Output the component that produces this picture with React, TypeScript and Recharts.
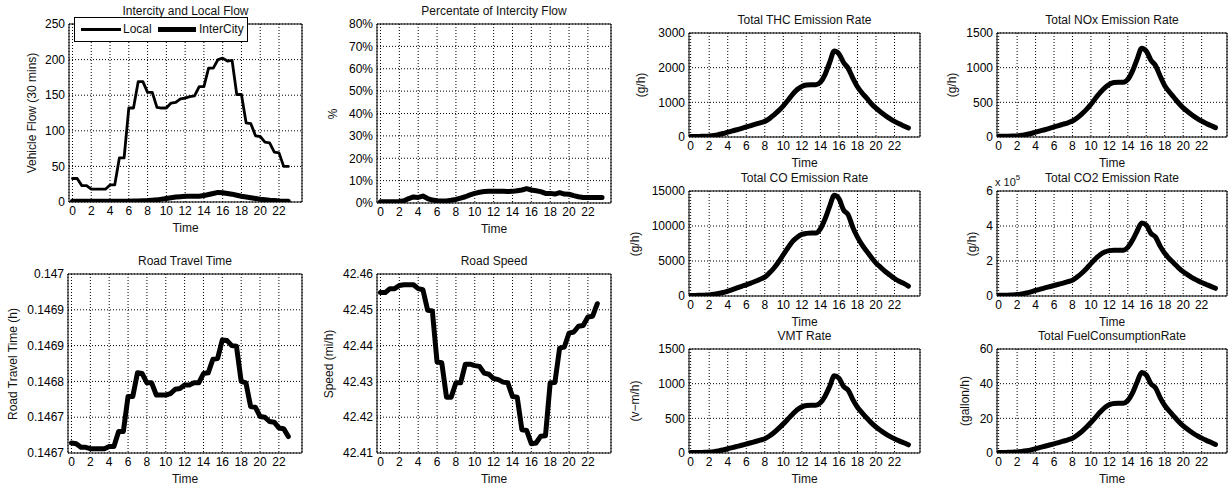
import React from 'react';
import { LineChart, Line, XAxis, YAxis, CartesianGrid, ReferenceArea } from 'recharts';

const FONT = '"Liberation Sans", Arial, Helvetica, sans-serif';

// ---------- time axes ----------
const timeA = [0, 0.5, 1, 1.5, 2, 2.5, 3, 3.5, 4, 4.5, 5, 5.5, 6, 6.5, 7, 7.5, 8, 8.5, 9, 9.5, 10, 10.5, 11, 11.5, 12, 12.5, 13, 13.5, 14, 14.5, 15, 15.5, 16, 16.5, 17, 17.5, 18, 18.5, 19, 19.5, 20, 20.5, 21, 21.5, 22, 22.5, 23];
const timeB = [0, 0.5, 1, 1.5, 2, 2.5, 3, 3.5, 4, 4.5, 5, 5.5, 6, 6.5, 7, 7.5, 8, 8.5, 9, 9.5, 10, 10.5, 11, 11.5, 12, 12.5, 13, 13.5, 14, 14.5, 15, 15.5, 16, 16.5, 17, 17.5, 18, 18.5, 19, 19.5, 20, 20.5, 21, 21.5, 22, 22.5, 23, 23.5];
const xTicks = [0, 2, 4, 6, 8, 10, 12, 14, 16, 18, 20, 22];

// ---------- left block series ----------
const localFlow = [33, 33, 23, 23, 18, 18, 18, 18, 24, 24, 62, 62, 132, 132, 169, 169, 154, 154, 133, 132, 132, 139, 140, 145, 146, 148, 149, 162, 162, 188, 188, 200, 202, 198, 199, 151, 151, 111, 110, 93, 92, 84, 83, 70, 69, 50, 50];
const intercityFlow = [1, 1, 1, 1, 1, 1, 1, 1, 1, 1, 1, 1, 1.2, 1.3, 1.5, 1.7, 2, 2.5, 3, 4, 5, 6, 7, 7.5, 8, 8, 8, 8, 9, 10.5, 12, 13.5, 13, 12, 11, 9.5, 8, 7, 6, 5, 4, 3.2, 2.5, 2, 1.5, 1.2, 1];
const intercityPct = [0.6, 0.6, 0.6, 0.6, 0.7, 1.0, 2.0, 2.7, 2.5, 3.1, 2.0, 1.3, 1.0, 0.9, 0.9, 1.2, 1.6, 2.2, 2.8, 3.6, 4.3, 4.8, 5.1, 5.2, 5.2, 5.2, 5.2, 5.1, 5.2, 5.5, 5.8, 6.4, 5.8, 5.5, 5.1, 4.3, 4.3, 4.0, 4.6, 4.0, 3.9, 3.3, 2.8, 2.5, 2.5, 2.5, 2.5, 2.5];
const travelTime = [0.146714, 0.146713, 0.146708, 0.146708, 0.146706, 0.146706, 0.146706, 0.146706, 0.146709, 0.146709, 0.14673, 0.14673, 0.146779, 0.146779, 0.146812, 0.146811, 0.146798, 0.146798, 0.146781, 0.146781, 0.146781, 0.146783, 0.146789, 0.14679, 0.146795, 0.146795, 0.146798, 0.146798, 0.146811, 0.146812, 0.146831, 0.146832, 0.146858, 0.146857, 0.14685, 0.146849, 0.1468, 0.146798, 0.146765, 0.146764, 0.146751, 0.14675, 0.146744, 0.146743, 0.146735, 0.146734, 0.146723];
const roadSpeed = [42.4548, 42.4548, 42.4559, 42.4559, 42.4568, 42.457, 42.457, 42.457, 42.4559, 42.4556, 42.4499, 42.4497, 42.4354, 42.4352, 42.4256, 42.4256, 42.4296, 42.4296, 42.4348, 42.4348, 42.4344, 42.4342, 42.4323, 42.432, 42.4308, 42.4305, 42.4298, 42.4296, 42.4258, 42.4256, 42.4165, 42.4163, 42.4126, 42.4128, 42.4147, 42.4148, 42.4296, 42.4297, 42.4393, 42.4396, 42.4435, 42.4438, 42.4454, 42.4456, 42.448, 42.4482, 42.4517];

// ---------- emission series ----------
const thcRate = [15, 15, 18, 22, 30, 45, 70, 100, 140, 175, 210, 250, 290, 330, 370, 410, 450, 530, 640, 760, 900, 1060, 1230, 1370, 1460, 1500, 1510, 1510, 1580, 1800, 2150, 2480, 2400, 2150, 1980, 1700, 1450, 1270, 1120, 960, 830, 720, 620, 530, 450, 380, 320, 260];
const noxRate = [10, 10, 12, 14, 16, 25, 35, 50, 70, 88, 105, 125, 145, 165, 185, 205, 230, 275, 330, 395, 470, 560, 640, 710, 760, 785, 790, 790, 830, 950, 1120, 1280, 1240, 1110, 1030, 880, 740, 650, 570, 490, 420, 365, 315, 270, 230, 195, 165, 135];
const coRate = [80, 80, 100, 120, 150, 250, 350, 500, 700, 920, 1150, 1380, 1600, 1850, 2100, 2400, 2700, 3300, 4000, 4900, 5900, 6900, 7800, 8400, 8800, 8950, 9000, 9000, 9600, 11000, 12800, 14400, 13900, 12300, 11600, 9800, 8400, 7300, 6400, 5500, 4700, 4100, 3500, 3000, 2500, 2100, 1800, 1400];
const co2Rate = [4000, 4000, 5000, 6000, 8000, 12000, 17000, 24000, 32000, 39000, 46000, 53000, 60000, 67000, 74000, 82000, 90000, 108000, 130000, 156000, 185000, 213000, 236000, 251000, 259000, 262000, 262000, 262000, 278000, 318000, 370000, 417000, 405000, 358000, 337000, 285000, 244000, 213000, 187000, 161000, 139000, 121000, 104000, 90000, 77000, 66000, 55000, 44000];
const vmtRate = [6, 6, 8, 10, 14, 20, 30, 45, 62, 78, 95, 112, 130, 148, 166, 185, 205, 245, 295, 355, 420, 490, 560, 625, 665, 685, 690, 690, 725, 820, 960, 1115, 1080, 960, 905, 770, 660, 580, 505, 435, 375, 325, 280, 240, 205, 175, 148, 118];
const fuelRate = [0.3, 0.3, 0.4, 0.5, 0.6, 0.9, 1.3, 1.8, 2.5, 3.2, 3.9, 4.6, 5.3, 6.0, 6.8, 7.6, 8.5, 10.2, 12.3, 14.8, 17.6, 20.6, 23.6, 26.2, 27.9, 28.6, 28.7, 28.7, 30.3, 34.6, 40.8, 46.5, 45.0, 40.0, 37.6, 32.0, 27.4, 24.1, 21.1, 18.2, 15.6, 13.6, 11.7, 10.0, 8.6, 7.3, 6.2, 4.9];

// ---------- tick definitions ----------
const flowTicks = [0, 50, 100, 150, 200, 250];
const pctTicks = [0, 10, 20, 30, 40, 50, 60, 70, 80];
const ttTicks = [0.1467, 0.14675, 0.1468, 0.14685, 0.1469, 0.14695];
const ttLabels = ['0.1467', '0.1467', '0.1468', '0.1469', '0.1469', '0.147'];
const speedTicks = [42.41, 42.42, 42.43, 42.44, 42.45, 42.46];
const thcTicks = [0, 1000, 2000, 3000];
const noxTicks = [0, 500, 1000, 1500];
const coTicks = [0, 5000, 10000, 15000];
const co2Ticks = [0, 200000, 400000, 600000];
const vmtTicks = [0, 500, 1000, 1500];
const fuelTicks = [0, 20, 40, 60];

const flowData = timeA.map((t, i) => ({ t, local: localFlow[i], inter: intercityFlow[i] }));
const pctData = timeB.map((t, i) => ({ t, v: intercityPct[i] }));
const ttData = timeA.map((t, i) => ({ t, v: travelTime[i] }));
const speedData = timeA.map((t, i) => ({ t, v: roadSpeed[i] }));
const mk = (arr: number[]) => timeB.map((t, i) => ({ t, v: arr[i] }));

const LEFT_X: [number, number] = [-0.37, 24.45];
const EM_X: [number, number] = [-0.18, 24.75];

type LineSpec = { key: string; width: number; curve?: any };

type PanelProps = {
  box: [number, number, number, number];
  data: any[];
  lines: LineSpec[];
  xDomain: [number, number];
  yDomain: [number, number];
  yTicks: number[];
  yFmt?: (v: number, i: number) => string;
  title: string;
  yLabel: string;
  yLabelX: number;
};

const txt: React.CSSProperties = {
  position: 'absolute',
  fontFamily: FONT,
  fontSize: 12,
  lineHeight: '14px',
  color: '#111',
  whiteSpace: 'nowrap',
};

function Panel({ box, data, lines, xDomain, yDomain, yTicks, yFmt, title, yLabel, yLabelX }: PanelProps) {
  const [l, t, w, h] = box;
  const ML = 60, MT = 10, MR = 8, MB = 22;
  const tickStyle = { fill: '#000', fontSize: 12, fontFamily: FONT };
  return (
    <>
      <div style={{ position: 'absolute', left: l - ML, top: t - MT }}>
        <LineChart width={w + ML + MR} height={h + MT + MB} data={data} margin={{ top: MT, right: MR, left: 0, bottom: 0 }}>
          <CartesianGrid stroke="#000" strokeDasharray="1 2" strokeWidth={1} />
          <XAxis dataKey="t" type="number" domain={xDomain} ticks={xTicks} allowDataOverflow interval={0}
            tickLine={false} axisLine={false} tickSize={0} tickMargin={4} height={MB} tick={tickStyle} />
          <YAxis type="number" domain={yDomain} ticks={yTicks} allowDataOverflow interval={0}
            tickLine={false} axisLine={false} tickSize={0} tickMargin={4} width={ML} tick={tickStyle}
            tickFormatter={yFmt as any} />
          {lines.map((s) => (
            <Line key={s.key} dataKey={s.key} type={s.curve || 'linear'} stroke="#000" strokeWidth={s.width}
              dot={false} activeDot={false} isAnimationActive={false} strokeLinejoin="round" strokeLinecap="round" />
          ))}
          <ReferenceArea x1={xDomain[0]} x2={xDomain[1]} y1={yDomain[0]} y2={yDomain[1]} fill="none"
            stroke="#000" strokeWidth={1} ifOverflow="visible" />
        </LineChart>
      </div>
      <div style={{ ...txt, left: l, top: t - 20, width: w, textAlign: 'center' }}>{title}</div>
      <div style={{ ...txt, left: l, top: t + h + 19, width: w, textAlign: 'center' }}>Time</div>
      <div style={{ ...txt, left: yLabelX, top: t + h / 2, transform: 'translate(-50%,-50%) rotate(-90deg)' }}>{yLabel}</div>
    </>
  );
}

export default function App() {
  return (
    <div style={{ position: 'absolute', left: 0, top: 0, width: 1228, height: 486, background: '#fff', overflow: 'hidden' }}>
      <Panel box={[69, 24, 233, 178]} data={flowData}
        lines={[{ key: 'local', width: 2.8 }, { key: 'inter', width: 5 }]}
        xDomain={LEFT_X} yDomain={[0, 250]} yTicks={flowTicks}
        title="Intercity and Local Flow" yLabel="Vehicle Flow (30 mins)" yLabelX={32} />
      <Panel box={[377, 24, 234, 179]} data={pctData} lines={[{ key: 'v', width: 5 }]}
        xDomain={LEFT_X} yDomain={[0, 80]} yTicks={pctTicks} yFmt={(v) => `${v}%`}
        title="Percentate of Intercity Flow" yLabel="%" yLabelX={333} />
      <Panel box={[68, 274, 234, 179]} data={ttData} lines={[{ key: 'v', width: 5 }]}
        xDomain={LEFT_X} yDomain={[0.1467, 0.14695]} yTicks={ttTicks}
        yFmt={(v, i) => ttLabels[i] ?? String(v)}
        title="Road Travel Time" yLabel="Road Travel Time (h)" yLabelX={13} />
      <Panel box={[377, 274, 234, 179]} data={speedData} lines={[{ key: 'v', width: 5 }]}
        xDomain={LEFT_X} yDomain={[42.41, 42.46]} yTicks={speedTicks} yFmt={(v) => v.toFixed(2)}
        title="Road Speed" yLabel="Speed (mi/h)" yLabelX={329} />

      <Panel box={[689, 33, 231, 104]} data={mk(thcRate)} lines={[{ key: 'v', width: 5, curve: 'monotone' }]}
        xDomain={EM_X} yDomain={[0, 3000]} yTicks={thcTicks}
        title="Total THC Emission Rate" yLabel="(g/h)" yLabelX={641} />
      <Panel box={[997, 33, 230, 104]} data={mk(noxRate)} lines={[{ key: 'v', width: 5, curve: 'monotone' }]}
        xDomain={EM_X} yDomain={[0, 1500]} yTicks={noxTicks}
        title="Total NOx Emission Rate" yLabel="(g/h)" yLabelX={952} />
      <Panel box={[689, 191, 231, 105]} data={mk(coRate)} lines={[{ key: 'v', width: 5, curve: 'monotone' }]}
        xDomain={EM_X} yDomain={[0, 15000]} yTicks={coTicks}
        title="Total CO Emission Rate" yLabel="(g/h)" yLabelX={635} />
      <Panel box={[997, 191, 230, 105]} data={mk(co2Rate)} lines={[{ key: 'v', width: 5, curve: 'monotone' }]}
        xDomain={EM_X} yDomain={[0, 600000]} yTicks={co2Ticks} yFmt={(v) => String(v / 100000)}
        title="Total CO2 Emission Rate" yLabel="(g/h)" yLabelX={972} />
      <Panel box={[689, 349, 231, 104]} data={mk(vmtRate)} lines={[{ key: 'v', width: 5, curve: 'monotone' }]}
        xDomain={EM_X} yDomain={[0, 1500]} yTicks={vmtTicks}
        title="VMT Rate" yLabel="(v−m/h)" yLabelX={635} />
      <Panel box={[997, 349, 230, 104]} data={mk(fuelRate)} lines={[{ key: 'v', width: 5, curve: 'monotone' }]}
        xDomain={EM_X} yDomain={[0, 60]} yTicks={fuelTicks}
        title="Total FuelConsumptionRate" yLabel="(gallon/h)" yLabelX={965} />

      <div style={{ ...txt, left: 995, top: 175, fontSize: 11 }}>
        x 10<sup style={{ fontSize: 8, verticalAlign: 'top', position: 'relative', top: -4 }}>5</sup>
      </div>

      <div style={{ position: 'absolute', left: 74, top: 17, width: 172, height: 23, border: '1px solid #000', background: '#fff', fontFamily: FONT, fontSize: 12 }}>
        <div style={{ position: 'absolute', left: 6, top: 10, width: 40, height: 3, background: '#000' }} />
        <div style={{ ...txt, left: 48, top: 4 }}>Local</div>
        <div style={{ position: 'absolute', left: 83, top: 9, width: 38, height: 5, background: '#000' }} />
        <div style={{ ...txt, left: 124, top: 4 }}>InterCity</div>
      </div>
    </div>
  );
}
